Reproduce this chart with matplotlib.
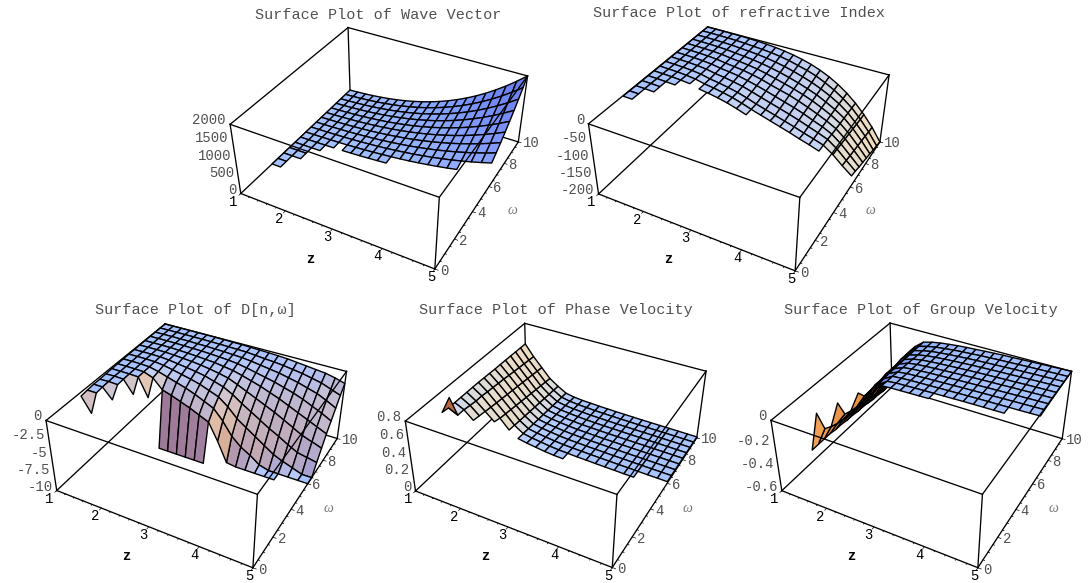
import numpy as np
import matplotlib
matplotlib.use("Agg")
import matplotlib.pyplot as plt
from mpl_toolkits.mplot3d.art3d import Poly3DCollection

W, H = 1088, 583
MONO = ["Liberation Mono", "DejaVu Sans Mono"]

z_axis = [1 + 0.2 * i for i in range(21)]
omega_axis = [0.5 * j for j in range(21)]
first_row = 5
# lowest omega row of each cell along z
cell_start = [5, 7, 9, 10, 11, 10, 10, 10, 10, 10, 11, 11, 11, 11, 11, 11, 11, 12, 12, 12]

wave_vector = [
    [1, 2],
    [1, 3],
    [2, 3, 5],
    [3, 4, 7],
    [3, 6, 9, 13],
    [4, 7, 11, 16, 23, 32, 42, 55, 70, 88, 108],
    [5, 8, 13, 20, 28, 39, 51, 67, 85, 106, 131, 159, 190, 226, 266, 310, 358, 412],
    [6, 10, 16, 24, 33, 46, 61, 80, 101, 126, 156, 189, 226, 269, 316, 369, 427, 491, 561, 637, 720],
    [7, 12, 19, 28, 39, 54, 72, 93, 119, 148, 183, 221, 266, 316, 371, 433, 501, 576, 658, 747, 845],
    [8, 14, 22, 32, 46, 63, 83, 108, 138, 172, 212, 257, 308, 366, 430, 502, 581, 668, 763, 867, 980],
    [9, 16, 25, 37, 52, 72, 96, 124, 158, 197, 243, 295, 354, 420, 494, 576, 667, 767, 876, 995, 1125],
    [10, 18, 28, 42, 60, 82, 109, 141, 180, 225, 276, 335, 403, 478, 562, 655, 758, 872, 996, 1132, 1280],
    [12, 20, 32, 48, 67, 92, 123, 160, 203, 254, 312, 379, 454, 540, 634, 740, 856, 985, 1125, 1278, 1445],
    [13, 23, 36, 53, 75, 104, 138, 179, 228, 284, 350, 424, 509, 605, 711, 829, 960, 1104, 1261, 1433, 1620],
    [14, 25, 40, 60, 84, 116, 153, 199, 254, 317, 390, 473, 568, 674, 792, 924, 1069, 1230, 1405, 1597, 1805],
    [16, 28, 44, 66, 93, 128, 170, 221, 281, 351, 432, 524, 629, 747, 878, 1024, 1185, 1363, 1557, 1769, 2000],
]
# magnitudes; the plotted quantity is negative
refractive_depth = [
    [1, 1.5],
    [1, 1.5],
    [1, 1.5, 2.5],
    [1, 1.5, 2.5],
    [1, 1.7, 2.7, 4],
    [1, 1.8, 2.8, 4.5, 7, 14, 18, 23, 29, 37, 46],
    [1, 2, 3, 5, 8, 14, 18, 23, 29, 37, 46, 54, 62, 70, 78, 87, 95, 104],
    [1, 2, 3, 5, 8, 14, 18, 23, 29, 37, 46, 54, 62, 70, 78, 87, 95, 104, 122, 145, 166],
    [.9, 1.8, 2.7, 4.5, 7.2, 12.5, 16, 20.8, 26.3, 33.8, 42.2, 50, 57.9, 66, 74.6, 84.3, 93.6, 104, 123, 147, 170],
    [.8, 1.5, 2.3, 3.9, 6.3, 11, 14, 18, 24, 30.5, 38, 46, 54, 62, 71, 82, 92, 105, 125, 150, 175],
    [.65, 1.3, 2, 3.4, 5.5, 9.5, 12.5, 16, 21, 27, 35, 42, 49, 58, 68, 79, 91, 105, 126, 152, 179],
    [.55, 1.1, 1.7, 2.8, 4.6, 8, 10.6, 14, 18, 24, 31, 38, 45.5, 54, 64, 76, 89, 105, 127, 154, 183],
    [.4, .85, 1.3, 2.3, 3.8, 6.5, 9, 12, 16, 21, 27, 34, 42, 51, 61, 74, 88, 105, 128, 156, 187],
    [.3, .6, 1, 1.8, 2.9, 5, 7, 9.5, 13, 17.5, 23, 30, 38, 47, 58, 71, 86, 105, 130, 158, 192],
    [.2, .4, .7, 1.2, 2, 3.5, 5.5, 7.5, 10, 14, 19, 26, 33, 42, 54, 68, 85, 105, 131, 161, 196],
    [.06, .16, .34, .67, 1.2, 2, 3.3, 5.1, 7.6, 11, 15.6, 21.5, 29, 38.7, 50.7, 65.5, 83.6, 105.5, 132, 163, 200],
]
dispersion_depth = [
    [.5, 2.5],
    [.4, .4],
    [.3, .3, 1.7],
    [.3, .25, .3],
    [.25, .2, .25, 2],
    [.2, .2, .2, .25, 2.8, 10, 10, 10, 10, 10, 10],
    [.18, .17, .18, .22, .7, 2, 2.4, 2.9, 3.4, 4, 4.6, 7, 9.8, 10, 10, 10, 10, 10],
    [.15, .13, .14, .2, .5, .9, 1.3, 1.7, 2.2, 2.8, 3.4, 4.8, 6.6, 7.8, 8.6, 9.6, 10, 10, 10, 10, 10],
    [.12, .1, .1, .14, .3, .55, .85, 1.15, 1.5, 2, 2.5, 3.5, 4.8, 5.7, 6.6, 7.5, 8.4, 9, 9.5, 10, 10],
    [.1, .08, .08, .1, .2, .38, .55, .75, 1, 1.4, 1.8, 2.5, 3.4, 4.2, 5, 5.8, 6.5, 7.3, 8, 8.3, 8.6],
    [.08, .06, .06, .08, .15, .25, .35, .5, .7, .95, 1.25, 1.8, 2.4, 3, 3.6, 4.2, 4.9, 5.6, 6.3, 6.8, 7.3],
    [.06, .05, .05, .06, .1, .17, .25, .35, .45, .65, .85, 1.2, 1.6, 2, 2.5, 3, 3.6, 4.2, 4.8, 5.4, 6],
    [.05, .04, .04, .05, .07, .12, .15, .22, .3, .4, .55, .8, 1.1, 1.4, 1.7, 2.1, 2.5, 3, 3.6, 4.2, 4.9],
    [.04, .03, .03, .04, .05, .08, .1, .15, .2, .27, .35, .5, .7, .9, 1.1, 1.4, 1.7, 2.1, 2.5, 3.1, 3.8],
    [.03, .02, .02, .03, .03, .05, .07, .09, .12, .16, .2, .32, .45, .55, .7, .9, 1.1, 1.4, 1.7, 2.2, 2.7],
    [.02, .02, .02, .02, .02, .03, .04, .05, .08, .1, .15, .2, .25, .32, .4, .55, .7, .85, 1, 1.3, 1.7],
]
phase_velocity = [
    [.58, .78],
    [.57, .52],
    [.57, .52, .43],
    [.57, .51, .42],
    [.57, .5, .41, .32],
    [.57, .5, .4, .3, .19, .12, .1, .085, .07, .06, .055],
    [.57, .49, .39, .29, .184, .115, .095, .081, .067, .057, .052, .047, .044, .04, .037, .034, .031, .029],
    [.566, .484, .382, .28, .178, .11, .09, .076, .063, .054, .049, .045, .041, .038, .035, .032, .03, .027, .024, .022, .02],
    [.564, .476, .373, .27, .172, .105, .085, .072, .06, .051, .047, .042, .039, .036, .033, .031, .028, .026, .024, .022, .02],
    [.56, .47, .364, .26, .166, .1, .08, .067, .056, .048, .044, .04, .037, .034, .032, .029, .027, .025, .023, .021, .019],
    [.56, .46, .355, .25, .16, .095, .075, .063, .053, .045, .041, .037, .034, .032, .03, .028, .026, .024, .022, .02, .018],
    [.558, .452, .346, .24, .154, .09, .07, .058, .049, .042, .038, .035, .032, .03, .028, .026, .025, .023, .021, .019, .017],
    [.556, .444, .337, .23, .148, .085, .065, .054, .046, .039, .035, .032, .03, .028, .026, .025, .023, .022, .02, .018, .016],
    [.554, .436, .328, .22, .142, .08, .06, .049, .042, .036, .033, .03, .027, .026, .024, .023, .022, .02, .019, .017, .015],
    [.552, .428, .319, .21, .136, .075, .055, .045, .039, .033, .03, .027, .025, .023, .021, .02, .019, .018, .017, .015, .013],
    [.55, .42, .31, .2, .13, .07, .05, .04, .035, .03, .027, .024, .022, .02, .018, .017, .016, .015, .014, .013, .012],
]
group_depth = [
    [.5, .15],
    [.5, .33],
    [.5, .36, .13],
    [.5, .38, .27],
    [.51, .39, .29, .11],
    [.51, .4, .3, .18, .09, .045, .04, .038, .036, .034, .032],
    [.52, .41, .3, .18, .1, .05, .042, .04, .037, .035, .033, .031, .029, .027, .026, .025, .024, .023],
    [.52, .41, .3, .17, .095, .05, .044, .04, .038, .036, .033, .031, .029, .027, .025, .024, .023, .021, .02, .018, .016],
    [.53, .42, .3, .17, .09, .055, .046, .042, .038, .036, .033, .031, .028, .026, .024, .022, .02, .018, .016, .014, .012],
    [.53, .42, .3, .16, .09, .058, .048, .043, .039, .036, .033, .03, .027, .025, .022, .02, .018, .016, .014, .012, .01],
    [.54, .43, .3, .16, .09, .06, .05, .044, .04, .036, .032, .029, .026, .023, .021, .019, .016, .014, .012, .01, .008],
    [.55, .43, .3, .16, .09, .065, .052, .045, .04, .036, .032, .028, .025, .022, .02, .017, .015, .012, .01, .008, .006],
    [.55, .44, .3, .15, .09, .068, .054, .046, .04, .035, .031, .027, .024, .021, .018, .016, .013, .011, .008, .006, .004],
    [.56, .44, .3, .15, .09, .07, .055, .047, .04, .035, .03, .026, .023, .02, .017, .014, .012, .009, .007, .005, .003],
    [.56, .44, .3, .15, .09, .07, .056, .048, .04, .034, .03, .025, .022, .018, .016, .013, .01, .008, .006, .003, .002],
    [.57, .45, .3, .15, .09, .07, .057, .048, .04, .034, .03, .025, .021, .017, .015, .012, .01, .007, .005, .002, 0],
]

z_ticks = [1, 2, 3, 4, 5]
omega_ticks = [0, 2, 4, 6, 8, 10]

panels = [
    dict(title="Surface Plot of Wave Vector", table=wave_vector, sign=1, vmin=0, vmax=2000,
         ticks=[0, 500, 1000, 1500, 2000], labels=["0", "500", "1000", "1500", "2000"],
         title_xy=(378, 15), rect=(215, 22, 325, 262),
         corners=[(230, 124), (241, 194), (435, 269), (439, 197), (348, 28), (528, 76), (518, 142), (350, 90)]),
    dict(title="Surface Plot of refractive Index", table=refractive_depth, sign=-1, vmin=-200, vmax=0,
         ticks=[0, -50, -100, -150, -200], labels=["0", "-50", "-100", "-150", "-200"],
         title_xy=(739, 13), rect=(575, 22, 325, 262),
         corners=[(588, 124), (599, 194), (795, 271), (800, 197), (708, 27), (889, 75), (880, 142), (709, 90)]),
    dict(title="Surface Plot of D[n,\u03c9]", table=dispersion_depth, sign=-1, vmin=-10, vmax=0,
         ticks=[0, -2.5, -5, -7.5, -10], labels=["0", "-2.5", "-5", "-7.5", "-10"],
         title_xy=(195, 310), rect=(35, 320, 325, 262),
         corners=[(46, 420), (57, 491), (253, 568), (257, 494), (165, 324), (347, 372), (337, 438), (167, 387)]),
    dict(title="Surface Plot of Phase Velocity", table=phase_velocity, sign=1, vmin=0, vmax=0.8,
         ticks=[0, .2, .4, .6, .8], labels=["0", "0.2", "0.4", "0.6", "0.8"],
         title_xy=(555.5, 310), rect=(395, 320, 325, 262),
         corners=[(405, 421), (416, 491), (612, 568), (617, 494), (525, 323), (706, 372), (697, 437), (526, 387)]),
    dict(title="Surface Plot of Group Velocity", table=group_depth, sign=-1, vmin=-0.6, vmax=0,
         ticks=[0, -.2, -.4, -.6], labels=["0", "-0.2", "-0.4", "-0.6"],
         title_xy=(921, 310), rect=(760, 320, 325, 262),
         corners=[(771, 420), (782, 491), (978, 568), (982, 494), (890, 323), (1072, 372), (1062, 438), (892, 387)]),
]

# view basis used for the shading of the facets (box 1 : 1 : 0.4)
view_w = np.array([1.3, -2.4, 2.0]); view_w = view_w / np.linalg.norm(view_w)
view_u = np.cross([0, 0, 1], view_w); view_u = view_u / np.linalg.norm(view_u)
view_v = np.cross(view_w, view_u)


def shade(normal):
    n = normal / (np.linalg.norm(normal) + 1e-12)
    if n @ view_w < 0:
        n = -n
    u, v, w = n @ view_u, n @ view_v, n @ view_w
    r = 0.613 + 0.33 * u - 0.07 * v + 0.16 * w
    g = 0.50 + 0.25 * u + 0.18 * v + 0.20 * w
    b = 0.60 - 0.10 * u + 0.42 * v + 0.15 * w
    return tuple(np.clip([r, g, b], 0, 1))


def fit_camera(corners, vmin, vmax):
    """3x4 homography from (z, omega, value) to display pixels, fitted on the box corners."""
    cube = [(0, 0, 1), (0, 0, 0), (1, 0, 0), (1, 0, 1), (0, 1, 1), (1, 1, 1), (1, 1, 0), (0, 1, 0)]
    rows, rhs = [], []
    for (X, Y, Z), (px, py) in zip(cube, corners):
        x, y = px, H - py
        rows.append([X, Y, Z, 1, 0, 0, 0, 0, -x * X, -x * Y, -x * Z]); rhs.append(x)
        rows.append([0, 0, 0, 0, X, Y, Z, 1, -y * X, -y * Y, -y * Z]); rhs.append(y)
    p = np.linalg.lstsq(np.array(rows, float), np.array(rhs, float), rcond=None)[0]
    P = np.array([p[:4], p[4:8], [p[8], p[9], p[10], 1.0]])
    N = np.array([[1 / 4, 0, 0, -1 / 4],
                  [0, 1 / 10, 0, 0],
                  [0, 0, 1 / (vmax - vmin), -vmin / (vmax - vmin)],
                  [0, 0, 0, 1]])
    return P @ N


fig = plt.figure(figsize=(W / 100, H / 100), dpi=100)
fig.patch.set_facecolor("white")
GREY = "#505050"

for spec in panels:
    x0, y0, w, h = spec["rect"]
    ax = fig.add_axes([x0 / W, 1 - (y0 + h) / H, w / W, h / H], projection="3d", computed_zorder=False)
    ax.set_axis_off()
    ax.patch.set_visible(False)
    ax.set_autoscale_on(False)
    ax.apply_aspect = lambda position=None: None
    camera = fit_camera(spec["corners"], spec["vmin"], spec["vmax"])

    def get_proj(ax=ax, camera=camera):
        Q = ax.transData.inverted().get_matrix() @ camera
        return np.vstack([Q[0], Q[1], [0, 0, 0, -1.0], Q[2]])
    ax.get_proj = get_proj

    def label(x, y, v, s, camera=camera, **kw):
        q = camera @ np.array([x, y, v, 1.0])
        fig.text(q[0] / q[2] / W, q[1] / q[2] / H, s, va="center", **kw)

    vmin, vmax, sign = spec["vmin"], spec["vmax"], spec["sign"]
    rows = spec["table"]
    verts, colors = [], []
    for c, start in enumerate(cell_start):
        for r in range(start, 20):
            j0 = r - first_row
            quad = [(c, r, rows[j0][c]), (c + 1, r, rows[j0][c + 1]),
                    (c + 1, r + 1, rows[j0 + 1][c + 1]), (c, r + 1, rows[j0 + 1][c])]
            pts = np.array([(z_axis[i], omega_axis[j], sign * v) for i, j, v in quad], float)
            verts.append(pts)
            unit = (pts - [1, 0, vmin]) / [4, 10, (vmax - vmin) / 0.4]
            colors.append(shade(np.cross(unit[2] - unit[0], unit[3] - unit[1])))
    surf = Poly3DCollection(verts, facecolors=colors, edgecolors="black", linewidths=1.0, zorder=2)
    ax.add_collection3d(surf, autolim=False)

    # bounding box
    a, b = 1, 5
    edges_back = [((a, 10, vmin), (a, 0, vmin)), ((a, 10, vmin), (b, 10, vmin)), ((a, 10, vmin), (a, 10, vmax))]
    edges_front = [((a, 0, vmax), (b, 0, vmax)), ((a, 0, vmax), (a, 0, vmin)), ((a, 0, vmin), (b, 0, vmin)),
                   ((b, 0, vmax), (b, 0, vmin)), ((a, 0, vmax), (a, 10, vmax)), ((a, 10, vmax), (b, 10, vmax)),
                   ((b, 0, vmax), (b, 10, vmax)), ((b, 10, vmax), (b, 10, vmin)), ((b, 0, vmin), (b, 10, vmin))]
    for group, zo in ((edges_back, 1), (edges_front, 3)):
        for p, q in group:
            ax.plot([p[0], q[0]], [p[1], q[1]], [p[2], q[2]], color="black", lw=0.95, zorder=zo, clip_on=False)

    # ticks and their labels
    for t in np.arange(1, 5.01, 0.2):
        ln = 0.14 if abs(t - round(t)) < 1e-6 else 0.07
        ax.plot([t, t], [0, -ln], [vmin, vmin], color="black", lw=0.5, zorder=3, clip_on=False)
    for t in np.arange(0, 10.01, 0.5):
        ln = 0.06 if abs(t / 2 - round(t / 2)) < 1e-6 else 0.03
        ax.plot([5, 5 + ln], [t, t], [vmin, vmin], color="black", lw=0.5, zorder=3, clip_on=False)
    for t in z_ticks:
        label(t + 0.025, -0.62 + 0.04 * (t - 1), vmin, str(t), family=MONO, fontsize=10, color="black", ha="center")
    for t in omega_ticks:
        label(5.09, t, vmin, str(t), family=MONO, fontsize=10, color=GREY, ha="left")
    for t, s in zip(spec["ticks"], spec["labels"]):
        label(0.92, 0, t + 0.04 * (vmax - vmin), s, family=MONO, fontsize=10, color=GREY, ha="right")

    tx, ty = spec["title_xy"]
    fig.text(tx / W, 1 - ty / H, spec["title"], family=MONO, fontsize=10.9, color=GREY, ha="center", va="center")
    bx, by = spec["corners"][1]
    fig.text((bx + 69) / W, 1 - (by + 65) / H, "z", family=MONO, fontsize=10, weight="bold", color="black", ha="center", va="center")
    fig.text((bx + 271) / W, 1 - (by + 17) / H, "\u03c9", family=["Liberation Serif", "DejaVu Serif"], style="italic",
             fontsize=10, color="#777777", ha="center", va="center")

fig.savefig("out.png", dpi=100)
